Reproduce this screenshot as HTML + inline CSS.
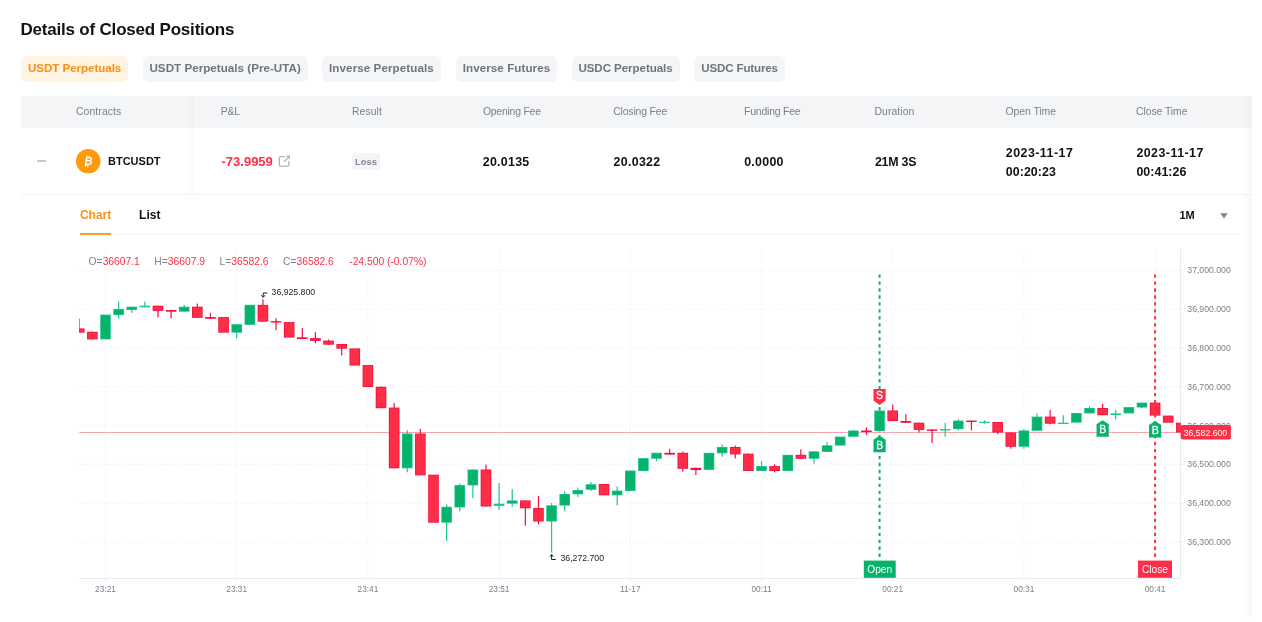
<!DOCTYPE html>
<html lang="en"><head><meta charset="utf-8"><title>Details of Closed Positions</title>
<style>
html,body{margin:0;padding:0}
body{width:1262px;height:622px;overflow:hidden;background:#fff;position:relative;font-family:"Liberation Sans",Arial,sans-serif;color:#121214}
.abs,.th,.tab,.td{position:absolute;white-space:nowrap}
.edge-r{position:absolute;left:1244px;top:95.8px;width:8.2px;height:521px;background:linear-gradient(to right,rgba(0,0,0,0),rgba(0,0,0,0.01) 40%,rgba(0,0,0,0.032))}
h1{position:absolute;left:20.5px;top:19px;margin:0;font-size:17px;line-height:22px;font-weight:700;letter-spacing:-0.2px;color:#121214;white-space:nowrap}
.tab{top:55.8px;height:25.8px;line-height:24px;border-radius:6px;background:#f3f5f7;color:#71757a;font-size:11.6px;font-weight:700;text-align:center}
.tab.on{background:#fff3e1;color:#fa8e14}
.thead{position:absolute;left:20.8px;top:95.8px;width:1231.2px;height:32.2px;background:#f4f5f7}
.th{top:95.8px;line-height:32.2px;font-size:10.4px;color:#7c8088}
.row{position:absolute;left:20.8px;top:128px;width:1231.2px;height:66px;border-bottom:1px solid #f1f2f4}
.shadow{position:absolute;left:186px;top:95.8px;width:8px;height:98px;background:linear-gradient(to right,rgba(0,0,0,0),rgba(0,0,0,0.028))}
.td{font-size:13px;font-weight:700;color:#121214;line-height:20px}
.chart{position:absolute;left:0;top:0}
</style></head><body>

<h1>Details of Closed Positions</h1>
<span class="tab on" style="left:20.8px;width:107.7px;letter-spacing:-0.054px">USDT Perpetuals</span><span class="tab" style="left:142.7px;width:164.9px;letter-spacing:0.032px">USDT Perpetuals (Pre-UTA)</span><span class="tab" style="left:321.7px;width:119.5px;letter-spacing:0.091px">Inverse Perpetuals</span><span class="tab" style="left:455.6px;width:101.8px;letter-spacing:0.067px">Inverse Futures</span><span class="tab" style="left:571.5px;width:108px;letter-spacing:-0.074px">USDC Perpetuals</span><span class="tab" style="left:693.7px;width:91.8px;letter-spacing:-0.177px">USDC Futures</span>
<div class="thead"></div>
<span class="th" style="left:76px;letter-spacing:0.099px">Contracts</span><span class="th" style="left:220.8px;letter-spacing:-0.219px">P&amp;L</span><span class="th" style="left:352px;letter-spacing:0.087px">Result</span><span class="th" style="left:482.9px;letter-spacing:-0.203px">Opening Fee</span><span class="th" style="left:613.2px;letter-spacing:-0.145px">Closing Fee</span><span class="th" style="left:744px;letter-spacing:-0.172px">Funding Fee</span><span class="th" style="left:874.5px;letter-spacing:0.086px">Duration</span><span class="th" style="left:1005.5px;letter-spacing:-0.041px">Open Time</span><span class="th" style="left:1136px;letter-spacing:-0.052px">Close Time</span>
<div class="row"></div>
<div class="shadow"></div><div class="edge-r"></div>
<div class="abs" style="left:37px;top:160px;width:9px;height:1.8px;background:#c3c9d3"></div>
<svg class="abs" style="left:76.3px;top:148.7px" width="24.5" height="24.5" viewBox="0 0 24 24"><circle cx="12" cy="12" r="12" fill="#fe9a0c"/><text x="12.2" y="15.8" font-size="11" font-weight="700" font-style="italic" fill="#fff" text-anchor="middle" font-family="Liberation Sans, Arial, sans-serif">B</text><path d="M11 6.2l-.4 1.9M13.1 6.6l-.4 1.9M9.6 15.6l-.4 1.9M11.7 16l-.4 1.9" stroke="#fff" stroke-width="1.1" fill="none"/></svg>
<span class="td" style="left:108px;top:150.5px;font-size:11px">BTCUSDT</span>
<span class="td" style="left:221.5px;top:152.3px;color:#ff2e47">-73.9959</span>
<svg class="abs" style="left:277.8px;top:154.6px" width="12.6" height="12.6" viewBox="0 0 12 12" fill="none" stroke="#adb3bd" stroke-width="1.2"><path d="M6.6 1.6H2.6a1.3 1.3 0 0 0-1.3 1.3v6.4a1.3 1.3 0 0 0 1.3 1.3h6.4a1.3 1.3 0 0 0 1.3-1.3V5.6"/><path d="M5.6 6.6L11 1.2M7.8 1H11.2V4.4"/></svg>
<span class="abs" style="left:352px;top:153.4px;width:28.1px;height:16.4px;border-radius:3px;background:#f3f4f6;color:#868b95;font-size:9.4px;font-weight:700;line-height:18.2px;text-align:center">Loss</span>
<span class="td" style="left:482.7px;top:151.6px;font-size:12.4px;letter-spacing:0.297px">20.0135</span>
<span class="td" style="left:613.6px;top:151.6px;font-size:12.4px;letter-spacing:0.297px">20.0322</span>
<span class="td" style="left:744.2px;top:151.6px;font-size:12.4px;letter-spacing:0.279px">0.0000</span>
<span class="td" style="left:874.9px;top:151.6px;font-size:12.4px;letter-spacing:-0.206px">21M 3S</span>
<span class="td" style="left:1005.8px;top:142.5px;font-size:12.4px;letter-spacing:0.475px">2023-11-17</span>
<span class="td" style="left:1005.8px;top:161.5px;font-size:12.4px;letter-spacing:0.058px">00:20:23</span>
<span class="td" style="left:1136.4px;top:142.5px;font-size:12.4px;letter-spacing:0.475px">2023-11-17</span>
<span class="td" style="left:1136.4px;top:161.5px;font-size:12.4px;letter-spacing:0.058px">00:41:26</span>
<span class="abs" style="left:79.9px;top:205px;font-size:12px;font-weight:700;line-height:20px;color:#f7931a">Chart</span>
<span class="abs" style="left:139.1px;top:205px;font-size:12px;font-weight:700;line-height:20px;color:#121214">List</span>
<div class="abs" style="left:79.9px;top:233.6px;width:1159px;height:1px;background:#f2f3f5"></div>
<div class="abs" style="left:79.9px;top:233.1px;width:31.2px;height:1.6px;background:#f99c2b"></div>
<span class="abs" style="left:1179.5px;top:205px;font-size:11px;font-weight:700;line-height:20px;color:#121214">1M</span>
<svg class="abs" style="left:1220px;top:212.8px" width="8" height="6" viewBox="0 0 8 6"><path d="M0.3 0.3H7.7L4 5.6Z" fill="#81858c"/></svg>
<svg class="chart" width="1262" height="622" viewBox="0 0 1262 622" font-family="Liberation Sans, Arial, sans-serif">
<defs><clipPath id="cp"><rect x="79.3" y="248.6" width="1101.4" height="329.4"/></clipPath></defs>
<line x1="79.3" x2="1180.7" y1="270.3" y2="270.3" stroke="#f0f1f4" stroke-width="1" stroke-dasharray="1.6 1.9"/>
<line x1="79.3" x2="1180.7" y1="309.1" y2="309.1" stroke="#f0f1f4" stroke-width="1" stroke-dasharray="1.6 1.9"/>
<line x1="79.3" x2="1180.7" y1="348.0" y2="348.0" stroke="#f0f1f4" stroke-width="1" stroke-dasharray="1.6 1.9"/>
<line x1="79.3" x2="1180.7" y1="386.8" y2="386.8" stroke="#f0f1f4" stroke-width="1" stroke-dasharray="1.6 1.9"/>
<line x1="79.3" x2="1180.7" y1="425.6" y2="425.6" stroke="#f0f1f4" stroke-width="1" stroke-dasharray="1.6 1.9"/>
<line x1="79.3" x2="1180.7" y1="464.4" y2="464.4" stroke="#f0f1f4" stroke-width="1" stroke-dasharray="1.6 1.9"/>
<line x1="79.3" x2="1180.7" y1="503.3" y2="503.3" stroke="#f0f1f4" stroke-width="1" stroke-dasharray="1.6 1.9"/>
<line x1="79.3" x2="1180.7" y1="542.1" y2="542.1" stroke="#f0f1f4" stroke-width="1" stroke-dasharray="1.6 1.9"/>
<line x1="105.5" x2="105.5" y1="248.6" y2="578" stroke="#f0f1f4" stroke-width="1" stroke-dasharray="1.6 1.9"/>
<line x1="236.7" x2="236.7" y1="248.6" y2="578" stroke="#f0f1f4" stroke-width="1" stroke-dasharray="1.6 1.9"/>
<line x1="367.9" x2="367.9" y1="248.6" y2="578" stroke="#f0f1f4" stroke-width="1" stroke-dasharray="1.6 1.9"/>
<line x1="499.1" x2="499.1" y1="248.6" y2="578" stroke="#f0f1f4" stroke-width="1" stroke-dasharray="1.6 1.9"/>
<line x1="630.3" x2="630.3" y1="248.6" y2="578" stroke="#f0f1f4" stroke-width="1" stroke-dasharray="1.6 1.9"/>
<line x1="761.5" x2="761.5" y1="248.6" y2="578" stroke="#f0f1f4" stroke-width="1" stroke-dasharray="1.6 1.9"/>
<line x1="892.7" x2="892.7" y1="248.6" y2="578" stroke="#f0f1f4" stroke-width="1" stroke-dasharray="1.6 1.9"/>
<line x1="1023.9" x2="1023.9" y1="248.6" y2="578" stroke="#f0f1f4" stroke-width="1" stroke-dasharray="1.6 1.9"/>
<line x1="1155.1" x2="1155.1" y1="248.6" y2="578" stroke="#f0f1f4" stroke-width="1" stroke-dasharray="1.6 1.9"/>
<line x1="105.5" x2="105.5" y1="579" y2="581" stroke="#e9ecf3" stroke-width="1"/>
<line x1="236.7" x2="236.7" y1="579" y2="581" stroke="#e9ecf3" stroke-width="1"/>
<line x1="367.9" x2="367.9" y1="579" y2="581" stroke="#e9ecf3" stroke-width="1"/>
<line x1="499.1" x2="499.1" y1="579" y2="581" stroke="#e9ecf3" stroke-width="1"/>
<line x1="630.3" x2="630.3" y1="579" y2="581" stroke="#e9ecf3" stroke-width="1"/>
<line x1="761.5" x2="761.5" y1="579" y2="581" stroke="#e9ecf3" stroke-width="1"/>
<line x1="892.7" x2="892.7" y1="579" y2="581" stroke="#e9ecf3" stroke-width="1"/>
<line x1="1023.9" x2="1023.9" y1="579" y2="581" stroke="#e9ecf3" stroke-width="1"/>
<line x1="1155.1" x2="1155.1" y1="579" y2="581" stroke="#e9ecf3" stroke-width="1"/>
<line x1="79.3" x2="1181.2" y1="578.5" y2="578.5" stroke="#e7ebf3" stroke-width="1"/>
<line x1="1180.5" x2="1180.5" y1="248.6" y2="578.5" stroke="#e7ebf3" stroke-width="1"/>
<line x1="79.3" x2="1180.7" y1="432.5" y2="432.5" stroke="#f9a3ac" stroke-width="1"/>
<g clip-path="url(#cp)">
<rect x="78.66" y="318.5" width="1.2" height="14.2" fill="#f60d40"/>
<rect x="73.96" y="328.4" width="10.6" height="4.3" fill="#f60d40"/>
<rect x="74.76" y="329.2" width="9" height="2.7" fill="#ff2e47"/>
<rect x="91.78" y="331.4" width="1.2" height="8" fill="#f60d40"/>
<rect x="87.08" y="331.8" width="10.6" height="7.6" fill="#f60d40"/>
<rect x="87.88" y="332.6" width="9" height="6" fill="#ff2e47"/>
<rect x="100.2" y="314.6" width="10.6" height="24.8" fill="#1fc493"/>
<rect x="101" y="315.4" width="9" height="23.2" fill="#07b26a"/>
<rect x="118.02" y="301.6" width="1.2" height="16.9" fill="#1fc493"/>
<rect x="113.32" y="309" width="10.6" height="6.1" fill="#1fc493"/>
<rect x="114.12" y="309.8" width="9" height="4.5" fill="#07b26a"/>
<rect x="131.14" y="306.7" width="1.2" height="6.2" fill="#1fc493"/>
<rect x="126.44" y="306.7" width="10.6" height="3.3" fill="#1fc493"/>
<rect x="127.24" y="307.5" width="9" height="1.7" fill="#07b26a"/>
<rect x="144.26" y="301.6" width="1.2" height="5.7" fill="#1fc493"/>
<rect x="139.56" y="305.7" width="10.6" height="1.6" fill="#1fc493"/>
<rect x="157.38" y="305.7" width="1.2" height="11.8" fill="#f60d40"/>
<rect x="152.68" y="305.7" width="10.6" height="5.2" fill="#f60d40"/>
<rect x="153.48" y="306.5" width="9" height="3.6" fill="#ff2e47"/>
<rect x="170.5" y="310" width="1.2" height="8.5" fill="#f60d40"/>
<rect x="165.8" y="310" width="10.6" height="1.7" fill="#f60d40"/>
<rect x="183.62" y="305" width="1.2" height="6.7" fill="#1fc493"/>
<rect x="178.92" y="306.7" width="10.6" height="5" fill="#1fc493"/>
<rect x="179.72" y="307.5" width="9" height="3.4" fill="#07b26a"/>
<rect x="196.74" y="303.6" width="1.2" height="14.2" fill="#f60d40"/>
<rect x="192.04" y="306.7" width="10.6" height="11.1" fill="#f60d40"/>
<rect x="192.84" y="307.5" width="9" height="9.5" fill="#ff2e47"/>
<rect x="209.86" y="312.9" width="1.2" height="5.9" fill="#f60d40"/>
<rect x="205.16" y="317.1" width="10.6" height="1.7" fill="#f60d40"/>
<rect x="218.28" y="317.1" width="10.6" height="15.6" fill="#f60d40"/>
<rect x="219.08" y="317.9" width="9" height="14" fill="#ff2e47"/>
<rect x="236.1" y="324.2" width="1.2" height="14" fill="#1fc493"/>
<rect x="231.4" y="324.2" width="10.6" height="8.5" fill="#1fc493"/>
<rect x="232.2" y="325" width="9" height="6.9" fill="#07b26a"/>
<rect x="244.52" y="304.8" width="10.6" height="20.1" fill="#1fc493"/>
<rect x="245.32" y="305.6" width="9" height="18.5" fill="#07b26a"/>
<rect x="262.34" y="299.3" width="1.2" height="22.4" fill="#f60d40"/>
<rect x="257.64" y="304.9" width="10.6" height="16.8" fill="#f60d40"/>
<rect x="258.44" y="305.7" width="9" height="15.2" fill="#ff2e47"/>
<rect x="275.46" y="318.2" width="1.2" height="12" fill="#f60d40"/>
<rect x="270.76" y="321.2" width="10.6" height="1.4" fill="#f60d40"/>
<rect x="283.88" y="322.1" width="10.6" height="15.5" fill="#f60d40"/>
<rect x="284.68" y="322.9" width="9" height="13.9" fill="#ff2e47"/>
<rect x="301.7" y="328" width="1.2" height="11" fill="#f60d40"/>
<rect x="297" y="337.3" width="10.6" height="1.7" fill="#f60d40"/>
<rect x="314.82" y="332.2" width="1.2" height="11" fill="#f60d40"/>
<rect x="310.12" y="338.1" width="10.6" height="2.9" fill="#f60d40"/>
<rect x="310.92" y="338.9" width="9" height="1.3" fill="#ff2e47"/>
<rect x="327.94" y="339.5" width="1.2" height="5.2" fill="#f60d40"/>
<rect x="323.24" y="340.6" width="10.6" height="4.1" fill="#f60d40"/>
<rect x="324.04" y="341.4" width="9" height="2.5" fill="#ff2e47"/>
<rect x="341.06" y="344" width="1.2" height="11.5" fill="#f60d40"/>
<rect x="336.36" y="344" width="10.6" height="4.7" fill="#f60d40"/>
<rect x="337.16" y="344.8" width="9" height="3.1" fill="#ff2e47"/>
<rect x="349.48" y="348.4" width="10.6" height="17.1" fill="#f60d40"/>
<rect x="350.28" y="349.2" width="9" height="15.5" fill="#ff2e47"/>
<rect x="362.6" y="365.1" width="10.6" height="21.9" fill="#f60d40"/>
<rect x="363.4" y="365.9" width="9" height="20.3" fill="#ff2e47"/>
<rect x="380.42" y="386.4" width="1.2" height="21.8" fill="#f60d40"/>
<rect x="375.72" y="386.8" width="10.6" height="21.4" fill="#f60d40"/>
<rect x="376.52" y="387.6" width="9" height="19.8" fill="#ff2e47"/>
<rect x="393.54" y="403" width="1.2" height="65.3" fill="#f60d40"/>
<rect x="388.84" y="407.6" width="10.6" height="60.7" fill="#f60d40"/>
<rect x="389.64" y="408.4" width="9" height="59.1" fill="#ff2e47"/>
<rect x="406.66" y="430.2" width="1.2" height="42.1" fill="#1fc493"/>
<rect x="401.96" y="433.5" width="10.6" height="34.8" fill="#1fc493"/>
<rect x="402.76" y="434.3" width="9" height="33.2" fill="#07b26a"/>
<rect x="419.78" y="428.9" width="1.2" height="46.4" fill="#f60d40"/>
<rect x="415.08" y="433.5" width="10.6" height="41.8" fill="#f60d40"/>
<rect x="415.88" y="434.3" width="9" height="40.2" fill="#ff2e47"/>
<rect x="428.2" y="474.7" width="10.6" height="48" fill="#f60d40"/>
<rect x="429" y="475.5" width="9" height="46.4" fill="#ff2e47"/>
<rect x="446.02" y="504.4" width="1.2" height="36.6" fill="#1fc493"/>
<rect x="441.32" y="506.8" width="10.6" height="15.9" fill="#1fc493"/>
<rect x="442.12" y="507.6" width="9" height="14.3" fill="#07b26a"/>
<rect x="459.14" y="483.6" width="1.2" height="27.8" fill="#1fc493"/>
<rect x="454.44" y="485.1" width="10.6" height="22.3" fill="#1fc493"/>
<rect x="455.24" y="485.9" width="9" height="20.7" fill="#07b26a"/>
<rect x="472.26" y="469.5" width="1.2" height="28.7" fill="#1fc493"/>
<rect x="467.56" y="469.5" width="10.6" height="15.9" fill="#1fc493"/>
<rect x="468.36" y="470.3" width="9" height="14.3" fill="#07b26a"/>
<rect x="485.38" y="464.7" width="1.2" height="41.8" fill="#f60d40"/>
<rect x="480.68" y="469.5" width="10.6" height="37" fill="#f60d40"/>
<rect x="481.48" y="470.3" width="9" height="35.4" fill="#ff2e47"/>
<rect x="498.5" y="483" width="1.2" height="26.8" fill="#1fc493"/>
<rect x="493.8" y="503.7" width="10.6" height="2.2" fill="#1fc493"/>
<rect x="511.62" y="489.1" width="1.2" height="17.7" fill="#1fc493"/>
<rect x="506.92" y="500.4" width="10.6" height="3.3" fill="#1fc493"/>
<rect x="507.72" y="501.2" width="9" height="1.7" fill="#07b26a"/>
<rect x="524.74" y="500.4" width="1.2" height="25.3" fill="#f60d40"/>
<rect x="520.04" y="500.4" width="10.6" height="7.9" fill="#f60d40"/>
<rect x="520.84" y="501.2" width="9" height="6.3" fill="#ff2e47"/>
<rect x="537.86" y="495.8" width="1.2" height="28.4" fill="#f60d40"/>
<rect x="533.16" y="508" width="10.6" height="13.5" fill="#f60d40"/>
<rect x="533.96" y="508.8" width="9" height="11.9" fill="#ff2e47"/>
<rect x="550.98" y="503.1" width="1.2" height="49.5" fill="#1fc493"/>
<rect x="546.28" y="505.3" width="10.6" height="16.2" fill="#1fc493"/>
<rect x="547.08" y="506.1" width="9" height="14.6" fill="#07b26a"/>
<rect x="564.1" y="491.2" width="1.2" height="20.2" fill="#1fc493"/>
<rect x="559.4" y="494" width="10.6" height="11.6" fill="#1fc493"/>
<rect x="560.2" y="494.8" width="9" height="10" fill="#07b26a"/>
<rect x="577.22" y="487.6" width="1.2" height="9.4" fill="#1fc493"/>
<rect x="572.52" y="490" width="10.6" height="4.3" fill="#1fc493"/>
<rect x="573.32" y="490.8" width="9" height="2.7" fill="#07b26a"/>
<rect x="590.34" y="482" width="1.2" height="9.2" fill="#1fc493"/>
<rect x="585.64" y="484.2" width="10.6" height="5.6" fill="#1fc493"/>
<rect x="586.44" y="485" width="9" height="4" fill="#07b26a"/>
<rect x="598.76" y="484" width="10.6" height="11.3" fill="#f60d40"/>
<rect x="599.56" y="484.8" width="9" height="9.7" fill="#ff2e47"/>
<rect x="616.58" y="486.5" width="1.2" height="18.9" fill="#1fc493"/>
<rect x="611.88" y="490.6" width="10.6" height="4.7" fill="#1fc493"/>
<rect x="612.68" y="491.4" width="9" height="3.1" fill="#07b26a"/>
<rect x="625" y="470.5" width="10.6" height="20.5" fill="#1fc493"/>
<rect x="625.8" y="471.3" width="9" height="18.9" fill="#07b26a"/>
<rect x="638.12" y="458.1" width="10.6" height="12.9" fill="#1fc493"/>
<rect x="638.92" y="458.9" width="9" height="11.3" fill="#07b26a"/>
<rect x="655.94" y="452.8" width="1.2" height="8.2" fill="#1fc493"/>
<rect x="651.24" y="452.8" width="10.6" height="6" fill="#1fc493"/>
<rect x="652.04" y="453.6" width="9" height="4.4" fill="#07b26a"/>
<rect x="669.06" y="448.8" width="1.2" height="5.8" fill="#f60d40"/>
<rect x="664.36" y="452.8" width="10.6" height="1.8" fill="#f60d40"/>
<rect x="682.18" y="451.7" width="1.2" height="20" fill="#f60d40"/>
<rect x="677.48" y="452.8" width="10.6" height="16" fill="#f60d40"/>
<rect x="678.28" y="453.6" width="9" height="14.4" fill="#ff2e47"/>
<rect x="695.3" y="467.2" width="1.2" height="7.8" fill="#f60d40"/>
<rect x="690.6" y="467.9" width="10.6" height="2.2" fill="#f60d40"/>
<rect x="703.72" y="452.8" width="10.6" height="17.1" fill="#1fc493"/>
<rect x="704.52" y="453.6" width="9" height="15.5" fill="#07b26a"/>
<rect x="721.54" y="444.4" width="1.2" height="12.4" fill="#1fc493"/>
<rect x="716.84" y="447" width="10.6" height="6.3" fill="#1fc493"/>
<rect x="717.64" y="447.8" width="9" height="4.7" fill="#07b26a"/>
<rect x="734.66" y="445.5" width="1.2" height="12.9" fill="#f60d40"/>
<rect x="729.96" y="447" width="10.6" height="7.4" fill="#f60d40"/>
<rect x="730.76" y="447.8" width="9" height="5.8" fill="#ff2e47"/>
<rect x="747.78" y="453.2" width="1.2" height="17.8" fill="#f60d40"/>
<rect x="743.08" y="453.7" width="10.6" height="17.3" fill="#f60d40"/>
<rect x="743.88" y="454.5" width="9" height="15.7" fill="#ff2e47"/>
<rect x="760.9" y="461.2" width="1.2" height="9.8" fill="#1fc493"/>
<rect x="756.2" y="466.1" width="10.6" height="4.9" fill="#1fc493"/>
<rect x="757" y="466.9" width="9" height="3.3" fill="#07b26a"/>
<rect x="774.02" y="464.3" width="1.2" height="8" fill="#f60d40"/>
<rect x="769.32" y="466.1" width="10.6" height="4.9" fill="#f60d40"/>
<rect x="770.12" y="466.9" width="9" height="3.3" fill="#ff2e47"/>
<rect x="782.44" y="454.8" width="10.6" height="16.2" fill="#1fc493"/>
<rect x="783.24" y="455.6" width="9" height="14.6" fill="#07b26a"/>
<rect x="800.26" y="449.3" width="1.2" height="9.5" fill="#f60d40"/>
<rect x="795.56" y="454.8" width="10.6" height="4" fill="#f60d40"/>
<rect x="796.36" y="455.6" width="9" height="2.4" fill="#ff2e47"/>
<rect x="813.38" y="451.3" width="1.2" height="12.4" fill="#1fc493"/>
<rect x="808.68" y="451.3" width="10.6" height="7.5" fill="#1fc493"/>
<rect x="809.48" y="452.1" width="9" height="5.9" fill="#07b26a"/>
<rect x="826.5" y="442.2" width="1.2" height="9.7" fill="#1fc493"/>
<rect x="821.8" y="445.3" width="10.6" height="6.6" fill="#1fc493"/>
<rect x="822.6" y="446.1" width="9" height="5" fill="#07b26a"/>
<rect x="834.92" y="436.6" width="10.6" height="9" fill="#1fc493"/>
<rect x="835.72" y="437.4" width="9" height="7.4" fill="#07b26a"/>
<rect x="852.74" y="430" width="1.2" height="6.8" fill="#1fc493"/>
<rect x="848.04" y="430.5" width="10.6" height="6.3" fill="#1fc493"/>
<rect x="848.84" y="431.3" width="9" height="4.7" fill="#07b26a"/>
<rect x="865.86" y="427.2" width="1.2" height="7.7" fill="#f60d40"/>
<rect x="861.16" y="430.5" width="10.6" height="1.5" fill="#f60d40"/>
<rect x="878.98" y="408" width="1.2" height="23.1" fill="#1fc493"/>
<rect x="874.28" y="410.5" width="10.6" height="20.6" fill="#1fc493"/>
<rect x="875.08" y="411.3" width="9" height="19" fill="#07b26a"/>
<rect x="892.1" y="404.6" width="1.2" height="16.5" fill="#f60d40"/>
<rect x="887.4" y="410.5" width="10.6" height="10.6" fill="#f60d40"/>
<rect x="888.2" y="411.3" width="9" height="9" fill="#ff2e47"/>
<rect x="905.22" y="414.2" width="1.2" height="8.6" fill="#f60d40"/>
<rect x="900.52" y="421" width="10.6" height="1.8" fill="#f60d40"/>
<rect x="918.34" y="422.7" width="1.2" height="9.8" fill="#f60d40"/>
<rect x="913.64" y="422.7" width="10.6" height="7.2" fill="#f60d40"/>
<rect x="914.44" y="423.5" width="9" height="5.6" fill="#ff2e47"/>
<rect x="931.46" y="429.4" width="1.2" height="13.5" fill="#f60d40"/>
<rect x="926.76" y="429.4" width="10.6" height="1.4" fill="#f60d40"/>
<rect x="944.58" y="422.8" width="1.2" height="13.9" fill="#1fc493"/>
<rect x="939.88" y="429.1" width="10.6" height="1.4" fill="#1fc493"/>
<rect x="957.7" y="419.3" width="1.2" height="11.1" fill="#1fc493"/>
<rect x="953" y="420.6" width="10.6" height="8.5" fill="#1fc493"/>
<rect x="953.8" y="421.4" width="9" height="6.9" fill="#07b26a"/>
<rect x="970.82" y="420.6" width="1.2" height="9.8" fill="#f60d40"/>
<rect x="966.12" y="420.6" width="10.6" height="1.4" fill="#f60d40"/>
<rect x="983.94" y="420.3" width="1.2" height="3.4" fill="#1fc493"/>
<rect x="979.24" y="421.7" width="10.6" height="1.3" fill="#1fc493"/>
<rect x="997.06" y="422" width="1.2" height="12.1" fill="#f60d40"/>
<rect x="992.36" y="422" width="10.6" height="10.5" fill="#f60d40"/>
<rect x="993.16" y="422.8" width="9" height="8.9" fill="#ff2e47"/>
<rect x="1010.18" y="432.5" width="1.2" height="16.2" fill="#f60d40"/>
<rect x="1005.48" y="432.5" width="10.6" height="14.3" fill="#f60d40"/>
<rect x="1006.28" y="433.3" width="9" height="12.7" fill="#ff2e47"/>
<rect x="1023.3" y="429.1" width="1.2" height="19.6" fill="#1fc493"/>
<rect x="1018.6" y="430.4" width="10.6" height="16.4" fill="#1fc493"/>
<rect x="1019.4" y="431.2" width="9" height="14.8" fill="#07b26a"/>
<rect x="1036.42" y="413.4" width="1.2" height="17.4" fill="#1fc493"/>
<rect x="1031.72" y="416.6" width="10.6" height="14.2" fill="#1fc493"/>
<rect x="1032.52" y="417.4" width="9" height="12.6" fill="#07b26a"/>
<rect x="1049.54" y="410" width="1.2" height="14.4" fill="#f60d40"/>
<rect x="1044.84" y="416.6" width="10.6" height="7.1" fill="#f60d40"/>
<rect x="1045.64" y="417.4" width="9" height="5.5" fill="#ff2e47"/>
<rect x="1062.66" y="415.2" width="1.2" height="8.7" fill="#1fc493"/>
<rect x="1057.96" y="422.7" width="10.6" height="1.3" fill="#1fc493"/>
<rect x="1071.08" y="413" width="10.6" height="9.7" fill="#1fc493"/>
<rect x="1071.88" y="413.8" width="9" height="8.1" fill="#07b26a"/>
<rect x="1088.9" y="406.3" width="1.2" height="7.1" fill="#1fc493"/>
<rect x="1084.2" y="408" width="10.6" height="5.4" fill="#1fc493"/>
<rect x="1085" y="408.8" width="9" height="3.8" fill="#07b26a"/>
<rect x="1102.02" y="403.8" width="1.2" height="11.4" fill="#f60d40"/>
<rect x="1097.32" y="408" width="10.6" height="7.2" fill="#f60d40"/>
<rect x="1098.12" y="408.8" width="9" height="5.6" fill="#ff2e47"/>
<rect x="1115.14" y="410" width="1.2" height="9.3" fill="#1fc493"/>
<rect x="1110.44" y="413.4" width="10.6" height="1.7" fill="#1fc493"/>
<rect x="1123.56" y="407.1" width="10.6" height="6.3" fill="#1fc493"/>
<rect x="1124.36" y="407.9" width="9" height="4.7" fill="#07b26a"/>
<rect x="1141.38" y="402.6" width="1.2" height="5.4" fill="#1fc493"/>
<rect x="1136.68" y="402.6" width="10.6" height="4.9" fill="#1fc493"/>
<rect x="1137.48" y="403.4" width="9" height="3.3" fill="#07b26a"/>
<rect x="1154.5" y="400.7" width="1.2" height="16.6" fill="#f60d40"/>
<rect x="1149.8" y="402.6" width="10.6" height="13" fill="#f60d40"/>
<rect x="1150.6" y="403.4" width="9" height="11.4" fill="#ff2e47"/>
<rect x="1162.92" y="415.6" width="10.6" height="7.1" fill="#f60d40"/>
<rect x="1163.72" y="416.4" width="9" height="5.5" fill="#ff2e47"/>
<rect x="1176.04" y="422.7" width="10.6" height="9.8" fill="#f60d40"/>
<rect x="1176.84" y="423.5" width="9" height="8.2" fill="#ff2e47"/>
</g>
<line x1="879.58" x2="879.58" y1="274.4" y2="557" stroke="#07b26a" stroke-width="2" stroke-dasharray="3.3 3.68"/>
<line x1="1155.1" x2="1155.1" y1="274.4" y2="557" stroke="#ff2e47" stroke-width="2" stroke-dasharray="3.3 3.68"/>
<path d="M873.48 389.1H885.68V400.4L879.58 405.1L873.48 400.4Z" fill="#ff2e47"/><text x="879.58" y="399.2" font-size="10.5" fill="#fff" stroke="#fff" stroke-width="0.3" text-anchor="middle">S</text>
<path d="M879.58 435.8L885.68 439.8V452.3H873.48V439.8Z" fill="#07b26a"/><text x="879.68" y="448.9" font-size="10.5" fill="#fff" stroke="#fff" stroke-width="0.3" text-anchor="middle">B</text>
<path d="M1102.62 420.3L1108.72 424.3V436.8H1096.52V424.3Z" fill="#07b26a"/><text x="1102.72" y="433.4" font-size="10.5" fill="#fff" stroke="#fff" stroke-width="0.3" text-anchor="middle">B</text>
<path d="M1155.1 421.1L1161.2 425.1V437.6H1149V425.1Z" fill="#07b26a"/><text x="1155.2" y="434.2" font-size="10.5" fill="#fff" stroke="#fff" stroke-width="0.3" text-anchor="middle">B</text>
<rect x="863.8" y="560.6" width="31.9" height="17.2" fill="#07b26a"/><text x="879.7" y="572.9" font-size="10.2" fill="#fff" text-anchor="middle">Open</text>
<rect x="1138" y="560.6" width="34" height="17.2" fill="#ff2e47"/><text x="1155" y="572.9" font-size="10.2" fill="#fff" text-anchor="middle">Close</text>
<line x1="1181" x2="1183.7" y1="270.3" y2="270.3" stroke="#e7ebf3" stroke-width="1"/>
<text x="1187.3" y="273.2" font-size="8.7" fill="#7b7f87">37,000.000</text>
<line x1="1181" x2="1183.7" y1="309.1" y2="309.1" stroke="#e7ebf3" stroke-width="1"/>
<text x="1187.3" y="312.03" font-size="8.7" fill="#7b7f87">36,900.000</text>
<line x1="1181" x2="1183.7" y1="348.0" y2="348.0" stroke="#e7ebf3" stroke-width="1"/>
<text x="1187.3" y="350.86" font-size="8.7" fill="#7b7f87">36,800.000</text>
<line x1="1181" x2="1183.7" y1="386.8" y2="386.8" stroke="#e7ebf3" stroke-width="1"/>
<text x="1187.3" y="389.69" font-size="8.7" fill="#7b7f87">36,700.000</text>
<line x1="1181" x2="1183.7" y1="425.6" y2="425.6" stroke="#e7ebf3" stroke-width="1"/>
<text x="1187.3" y="428.52" font-size="8.7" fill="#7b7f87">36,600.000</text>
<line x1="1181" x2="1183.7" y1="464.4" y2="464.4" stroke="#e7ebf3" stroke-width="1"/>
<text x="1187.3" y="467.35" font-size="8.7" fill="#7b7f87">36,500.000</text>
<line x1="1181" x2="1183.7" y1="503.3" y2="503.3" stroke="#e7ebf3" stroke-width="1"/>
<text x="1187.3" y="506.18" font-size="8.7" fill="#7b7f87">36,400.000</text>
<line x1="1181" x2="1183.7" y1="542.1" y2="542.1" stroke="#e7ebf3" stroke-width="1"/>
<text x="1187.3" y="545.01" font-size="8.7" fill="#7b7f87">36,300.000</text>
<rect x="1180.7" y="424.9" width="50.2" height="14.6" rx="2" fill="#ff2e47"/><text x="1183.7" y="435.5" font-size="8.7" fill="#fff">36,582.600</text>
<text x="105.5" y="591.5" font-size="8.3" fill="#7b7f87" text-anchor="middle">23:21</text>
<text x="236.7" y="591.5" font-size="8.3" fill="#7b7f87" text-anchor="middle">23:31</text>
<text x="367.9" y="591.5" font-size="8.3" fill="#7b7f87" text-anchor="middle">23:41</text>
<text x="499.1" y="591.5" font-size="8.3" fill="#7b7f87" text-anchor="middle">23:51</text>
<text x="630.3" y="591.5" font-size="8.3" fill="#7b7f87" text-anchor="middle">11-17</text>
<text x="761.5" y="591.5" font-size="8.3" fill="#7b7f87" text-anchor="middle">00:11</text>
<text x="892.7" y="591.5" font-size="8.3" fill="#7b7f87" text-anchor="middle">00:21</text>
<text x="1023.9" y="591.5" font-size="8.3" fill="#7b7f87" text-anchor="middle">00:31</text>
<text x="1155.1" y="591.5" font-size="8.3" fill="#7b7f87" text-anchor="middle">00:41</text>
<text x="88.6" y="264.8" font-size="10.3" fill="#7f838a">O=<tspan fill="#fa3049">36607.1</tspan><tspan dx="14.5">H=</tspan><tspan fill="#fa3049">36607.9</tspan><tspan dx="14.5">L=</tspan><tspan fill="#fa3049">36582.6</tspan><tspan dx="14.5">C=</tspan><tspan fill="#fa3049">36582.6</tspan><tspan dx="15.5" fill="#fa3049">-24.500 (-0.07%)</tspan></text>
<text x="271.6" y="295.3" font-size="8.7" fill="#222">36,925.800</text>
<path d="M267.4 293H263.2V296.8M261.3 295.2L263.2 297.4L265.1 295.2" fill="none" stroke="#222" stroke-width="1"/>
<text x="560.5" y="561.2" font-size="8.7" fill="#222">36,272.700</text>
<path d="M555.8 559.5H551.6V554.8M549.9 556.6L551.6 554.4L553.3 556.6" fill="none" stroke="#222" stroke-width="1"/>
</svg>
</body></html>
